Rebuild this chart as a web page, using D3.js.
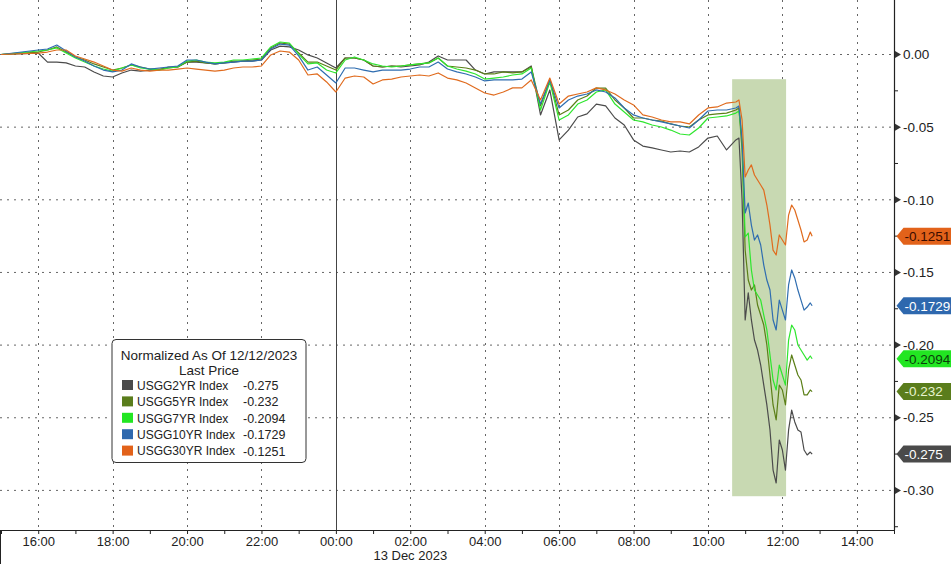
<!DOCTYPE html>
<html>
<head>
<meta charset="utf-8">
<script src="https://cdn.jsdelivr.net/npm/d3@7"></script>
<style>
  html, body { margin: 0; padding: 0; background: #fff; }
  svg { display: block; font-family: "Liberation Sans", Arial, sans-serif; }
</style>
</head>
<body>
<svg id="chart" width="951" height="564"></svg>
<script>
// hours relative to 13 Dec 2023 00:00 (negative = 12 Dec)
const times = [-9, -8, -7.75, -7.5, -7.25, -7, -6.75, -6.5, -6.25, -6, -5.75, -5.5, -5.25, -5, -4.75, -4.5, -4.25,
  -4, -3.75, -3.5, -3.25, -3, -2.75, -2.5, -2.25, -2, -1.75, -1.5, -1.25, -1, -0.75, -0.5, -0.25,
  0, 0.25, 0.5, 0.75, 1, 1.25, 1.5, 1.75, 2, 2.25, 2.5, 2.75, 3, 3.25, 3.5, 3.75,
  4, 4.25, 4.5, 4.75, 5, 5.25, 5.5, 5.75, 6, 6.25, 6.5, 6.75, 7, 7.25, 7.5, 7.75,
  8, 8.25, 8.5, 8.75, 9, 9.25, 9.5, 9.75, 10, 10.25, 10.5, 10.75,
  10.833, 10.917, 11, 11.083, 11.167, 11.25, 11.333, 11.417, 11.5, 11.583, 11.667, 11.75,
  11.833, 11.917, 12, 12.083, 12.167, 12.25, 12.333, 12.417, 12.5, 12.583, 12.667, 12.75, 12.8];

const usgg2yr = [0, 0.0010, -0.0052, -0.0052, -0.0058, -0.0079, -0.0086, -0.0120, -0.0148, -0.0155, -0.0127, -0.0107, -0.0114, -0.0107, -0.0107, -0.0086, -0.0086,
  -0.0052, -0.0052, -0.0058, -0.0065, -0.0058, -0.0052, -0.0045, -0.0045, -0.0038, 0.0031, 0.0058, 0.0052, 0.0031, -0.0003, -0.0024, -0.0058,
  -0.0093, -0.0024, -0.0024, -0.0038, -0.0079, -0.0086, -0.0079, -0.0086, -0.0079, -0.0072, -0.0052, -0.0010, -0.0038, -0.0038, -0.0038, -0.0107,
  -0.0134, -0.0120, -0.0120, -0.0120, -0.0120, -0.0079, -0.0416, -0.0244, -0.0588, -0.0520, -0.0430, -0.0409, -0.0341, -0.0354, -0.0437, -0.0485,
  -0.0588, -0.0630, -0.0643, -0.0657, -0.0671, -0.0664, -0.0671, -0.0636, -0.0575, -0.0561, -0.0657, -0.0588,
  -0.0575, -0.1001, -0.1827, -0.1641, -0.1827, -0.1965, -0.2034, -0.2137, -0.2275, -0.2412, -0.2584, -0.2860,
  -0.2949, -0.2653, -0.2722, -0.2860, -0.2584, -0.2447, -0.2529, -0.2584, -0.2598, -0.2722, -0.2756, -0.2736, -0.275];

const usgg5yr = [0, 0.0017, 0.0031, 0.0052, 0.0017, -0.0017, -0.0038, -0.0065, -0.0086, -0.0107, -0.0093, -0.0072, -0.0086, -0.0100, -0.0100, -0.0093, -0.0086,
  -0.0052, -0.0045, -0.0058, -0.0065, -0.0058, -0.0045, -0.0045, -0.0038, -0.0031, 0.0045, 0.0079, 0.0072, 0.0010, -0.0052, -0.0052, -0.0079,
  -0.0107, -0.0024, -0.0024, -0.0038, -0.0079, -0.0086, -0.0079, -0.0079, -0.0072, -0.0065, -0.0058, -0.0024, -0.0079, -0.0086, -0.0093, -0.0107,
  -0.0134, -0.0134, -0.0120, -0.0127, -0.0120, -0.0086, -0.0354, -0.0175, -0.0416, -0.0382, -0.0313, -0.0286, -0.0231, -0.0231, -0.0313, -0.0368,
  -0.0437, -0.0437, -0.0451, -0.0458, -0.0478, -0.0492, -0.0499, -0.0451, -0.0416, -0.0409, -0.0403, -0.0382,
  -0.0368, -0.0657, -0.1346, -0.1552, -0.1621, -0.1586, -0.1724, -0.1793, -0.1862, -0.1999, -0.2206, -0.2412,
  -0.2515, -0.2275, -0.2309, -0.2412, -0.2171, -0.2068, -0.2137, -0.2206, -0.2240, -0.2343, -0.2343, -0.2309, -0.232];

const usgg7yr = [0, 0.0024, 0.0031, 0.0045, 0.0010, -0.0024, -0.0052, -0.0079, -0.0100, -0.0114, -0.0093, -0.0072, -0.0093, -0.0100, -0.0107, -0.0093, -0.0086,
  -0.0045, -0.0038, -0.0052, -0.0058, -0.0052, -0.0038, -0.0038, -0.0031, -0.0024, 0.0052, 0.0086, 0.0079, 0.0003, -0.0065, -0.0058, -0.0107,
  -0.0127, -0.0038, -0.0017, -0.0038, -0.0065, -0.0079, -0.0086, -0.0079, -0.0072, -0.0065, -0.0058, -0.0024, -0.0079, -0.0100, -0.0114, -0.0134,
  -0.0169, -0.0162, -0.0155, -0.0141, -0.0134, -0.0093, -0.0382, -0.0189, -0.0451, -0.0416, -0.0341, -0.0313, -0.0258, -0.0244, -0.0341, -0.0396,
  -0.0451, -0.0464, -0.0485, -0.0499, -0.0520, -0.0547, -0.0554, -0.0506, -0.0437, -0.0430, -0.0423, -0.0403,
  -0.0389, -0.0588, -0.1256, -0.1229, -0.1483, -0.1621, -0.1655, -0.1690, -0.1793, -0.1896, -0.2068, -0.2240,
  -0.2309, -0.2137, -0.2206, -0.2275, -0.1965, -0.1862, -0.1896, -0.1999, -0.2034, -0.2068, -0.2103, -0.2075, -0.2094];

const usgg10yr = [0, 0.0031, 0.0038, 0.0065, 0.0024, -0.0017, -0.0045, -0.0079, -0.0107, -0.0120, -0.0107, -0.0065, -0.0086, -0.0100, -0.0093, -0.0086, -0.0079,
  -0.0038, -0.0038, -0.0052, -0.0065, -0.0058, -0.0052, -0.0045, -0.0045, -0.0038, 0.0038, 0.0072, 0.0065, -0.0010, -0.0107, -0.0086, -0.0141,
  -0.0196, -0.0093, -0.0093, -0.0107, -0.0120, -0.0107, -0.0107, -0.0107, -0.0100, -0.0086, -0.0086, -0.0052, -0.0100, -0.0120, -0.0134, -0.0155,
  -0.0182, -0.0175, -0.0175, -0.0175, -0.0169, -0.0120, -0.0341, -0.0175, -0.0368, -0.0313, -0.0286, -0.0272, -0.0244, -0.0258, -0.0299, -0.0368,
  -0.0416, -0.0437, -0.0451, -0.0464, -0.0478, -0.0492, -0.0506, -0.0451, -0.0389, -0.0382, -0.0382, -0.0368,
  -0.0354, -0.0588, -0.1091, -0.1022, -0.1174, -0.1277, -0.1242, -0.1311, -0.1449, -0.1552, -0.1621, -0.1827,
  -0.1896, -0.1690, -0.1759, -0.1827, -0.1586, -0.1483, -0.1538, -0.1621, -0.1690, -0.1759, -0.1738, -0.1710, -0.1729];

const usgg30yr = [0, 0.0010, 0.0017, 0.0031, 0.0031, -0.0010, -0.0031, -0.0052, -0.0079, -0.0107, -0.0114, -0.0093, -0.0107, -0.0114, -0.0107, -0.0107, -0.0100,
  -0.0093, -0.0100, -0.0107, -0.0114, -0.0107, -0.0093, -0.0086, -0.0086, -0.0079, -0.0003, 0.0024, 0.0017, -0.0038, -0.0141, -0.0134, -0.0189,
  -0.0258, -0.0162, -0.0148, -0.0155, -0.0203, -0.0175, -0.0169, -0.0155, -0.0148, -0.0141, -0.0148, -0.0127, -0.0162, -0.0175, -0.0196, -0.0230,
  -0.0265, -0.0279, -0.0258, -0.0230, -0.0230, -0.0175, -0.0313, -0.0162, -0.0341, -0.0286, -0.0272, -0.0258, -0.0230, -0.0244, -0.0272, -0.0313,
  -0.0347, -0.0416, -0.0430, -0.0451, -0.0464, -0.0464, -0.0478, -0.0416, -0.0368, -0.0361, -0.0334, -0.0327,
  -0.0313, -0.0451, -0.0843, -0.0795, -0.0760, -0.0829, -0.0864, -0.0898, -0.0933, -0.1036, -0.1174, -0.1346,
  -0.1380, -0.1242, -0.1277, -0.1311, -0.1105, -0.1036, -0.1070, -0.1139, -0.1208, -0.1290, -0.1277, -0.1222, -0.1251];

const seriesNames = ["USGG2YR Index", "USGG5YR Index", "USGG7YR Index", "USGG10YR Index", "USGG30YR Index"];
const lastPrices = ["-0.275", "-0.232", "-0.2094", "-0.1729", "-0.1251"];
const lineColors = ["#4b4b4b", "#5b7f17", "#2ee62e", "#2f6db0", "#e06b1e"];
const tagColors = ["#4a4a4a", "#5a7d1c", "#22e622", "#2e68ae", "#e2621a"];
const tagText = ["#ffffff", "#e8f4d0", "#0b3d0b", "#ffffff", "#3a0c00"];
const yTicks = [0, -0.05, -0.10, -0.15, -0.20, -0.25, -0.30];
const yMinor = [-0.025, -0.075, -0.125, -0.175, -0.225, -0.275, -0.325];
const shade = { from: 10.65, to: 12.1, top: -0.017, bottom: -0.304 };

const allSeries = [usgg2yr, usgg5yr, usgg7yr, usgg10yr, usgg30yr];

const base = new Date(2023, 11, 13, 0, 0);
const toDate = h => new Date(base.getTime() + h * 3600000);

const svg = d3.select("#chart");
const W = 894, H = 530; // plot right edge & bottom

const x = d3.scaleTime().domain([toDate(-9), toDate(15)]).range([1, W]);
const y = d3.scaleLinear().domain([0, -0.30]).range([54.5, 490.4]);

// horizontal dotted grid
svg.append("g").selectAll("line").data(yTicks).join("line")
  .attr("x1", 0).attr("x2", W)
  .attr("y1", d => y(d)).attr("y2", d => y(d))
  .attr("stroke", "#666").attr("stroke-width", 1).attr("stroke-dasharray", "2,5");

// vertical grid every 2h, midnight solid
const hours2 = d3.timeHour.every(2).range(toDate(-8), toDate(15));
svg.append("g").selectAll("line").data(hours2).join("line")
  .attr("x1", d => Math.round(x(d)) + 0.5).attr("x2", d => Math.round(x(d)) + 0.5)
  .attr("y1", 0).attr("y2", H)
  .attr("stroke", d => d.getHours() === 0 ? "#444" : "#666")
  .attr("stroke-width", 1)
  .attr("stroke-dasharray", d => d.getHours() === 0 ? null : "2,5");

// highlighted window
svg.append("rect")
  .attr("x", x(toDate(shade.from)))
  .attr("y", y(shade.top))
  .attr("width", x(toDate(shade.to)) - x(toDate(shade.from)))
  .attr("height", y(shade.bottom) - y(shade.top))
  .attr("fill", "#c8d9b2");

// lines
const line = d3.line()
  .x((d, i) => x(toDate(times[i])))
  .y(d => y(d));

svg.append("g").selectAll("path").data(allSeries).join("path")
  .attr("d", line)
  .attr("fill", "none")
  .attr("stroke", (d, i) => lineColors[i])
  .attr("stroke-width", 1.2)
  .attr("stroke-linejoin", "round");

// bottom axis
const fmt = d3.timeFormat("%H:%M");
const xAxis = d3.axisBottom(x)
  .ticks(d3.timeHour.every(1))
  .tickSize(4)
  .tickPadding(3)
  .tickFormat(d => d.getHours() % 2 === 0 && d > toDate(-9) ? fmt(d) : "");
const gx = svg.append("g").attr("transform", `translate(0,${H})`).call(xAxis);
gx.select(".domain").remove();
gx.selectAll("line").attr("stroke", "#222");
gx.selectAll("text").attr("font-size", 13).attr("fill", "#222")
  .attr("font-family", "Liberation Sans, Arial, sans-serif");

svg.append("line").attr("x1", 0).attr("x2", W).attr("y1", H + 0.5).attr("y2", H + 0.5)
  .attr("stroke", "#222").attr("stroke-width", 1.2);
svg.append("line").attr("x1", 0.5).attr("x2", 0.5).attr("y1", H).attr("y2", 564)
  .attr("stroke", "#222");

svg.append("text")
  .attr("x", x(toDate(2))).attr("y", 560)
  .attr("text-anchor", "middle").attr("font-size", 13).attr("fill", "#222")
  .text("13 Dec 2023");

// right axis
svg.append("line").attr("x1", W + 0.5).attr("x2", W + 0.5).attr("y1", 0).attr("y2", H)
  .attr("stroke", "#222").attr("stroke-width", 1.2);

svg.append("g").selectAll("line").data(yMinor).join("line")
  .attr("x1", W).attr("x2", W + 4)
  .attr("y1", d => y(d)).attr("y2", d => y(d))
  .attr("stroke", "#222");

const yT = svg.append("g").selectAll("g").data(yTicks).join("g")
  .attr("transform", d => `translate(${W},${y(d)})`);
yT.append("path").attr("d", "M1,-3.5L7,0L1,3.5Z").attr("fill", "#333");
yT.append("text")
  .attr("x", 9).attr("dy", "0.35em")
  .attr("font-size", 13.5).attr("fill", "#222")
  .text(d => d.toFixed(2));

// last value tags
const lastVals = allSeries.map(s => s[s.length - 1]);
const tags = svg.append("g").selectAll("g").data(lastVals).join("g")
  .attr("transform", d => `translate(${W + 2.5},${y(d)})`);
tags.append("path")
  .attr("d", "M0,0L7,-8.5L60,-8.5L60,8.5L7,8.5Z")
  .attr("fill", (d, i) => tagColors[i]);
tags.append("text")
  .attr("x", 8).attr("dy", "0.36em")
  .attr("font-size", 13.5)
  .attr("fill", (d, i) => tagText[i])
  .text((d, i) => lastPrices[i]);

// legend
const lg = svg.append("g").attr("transform", "translate(112,339.5)");
lg.append("rect").attr("width", 194).attr("height", 123).attr("rx", 4)
  .attr("fill", "#fff").attr("stroke", "#333").attr("stroke-width", 1);
lg.append("text").attr("x", 97).attr("y", 20).attr("text-anchor", "middle")
  .attr("font-size", 13.5).attr("fill", "#222").text("Normalized As Of 12/12/2023");
lg.append("text").attr("x", 97).attr("y", 35).attr("text-anchor", "middle")
  .attr("font-size", 13.5).attr("fill", "#222").text("Last Price");
const rows = lg.selectAll("g.row").data(seriesNames).join("g").attr("class", "row")
  .attr("transform", (d, i) => `translate(0,${46 + i * 16.4})`);
rows.append("rect").attr("x", 10).attr("y", -5.5).attr("width", 11).attr("height", 10)
  .attr("fill", (d, i) => tagColors[i]);
rows.append("text").attr("x", 25).attr("dy", "0.36em")
  .attr("font-size", 12).attr("fill", "#222").text(d => d);
rows.append("text").attr("x", 131).attr("dy", "0.36em")
  .attr("font-size", 12.5).attr("fill", "#222").text((d, i) => lastPrices[i]);
</script>
</body>
</html>
